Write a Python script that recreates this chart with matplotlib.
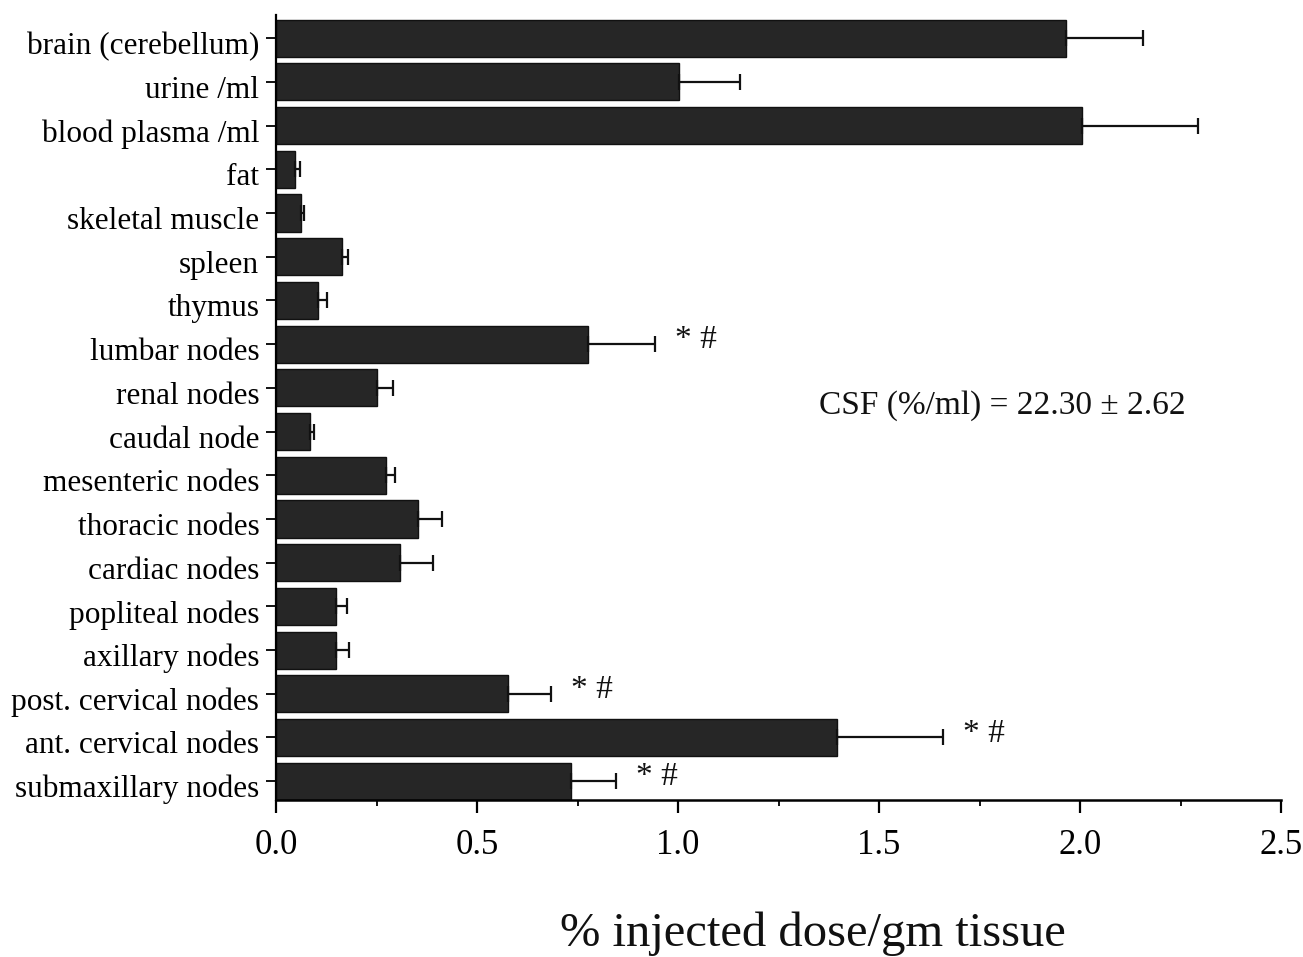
import matplotlib
matplotlib.use("Agg")
import matplotlib.pyplot as plt
import matplotlib.transforms as mtransforms
from matplotlib.ticker import MultipleLocator

categories = ["brain (cerebellum)", "urine /ml", "blood plasma /ml", "fat",
              "skeletal muscle", "spleen", "thymus", "lumbar nodes", "renal nodes",
              "caudal node", "mesenteric nodes", "thoracic nodes", "cardiac nodes",
              "popliteal nodes", "axillary nodes", "post. cervical nodes",
              "ant. cervical nodes", "submaxillary nodes"]
values = [1.964, 1.002, 2.006, 0.047, 0.061, 0.163, 0.105, 0.775, 0.251,
          0.084, 0.273, 0.352, 0.309, 0.150, 0.150, 0.576, 1.396, 0.735]
errors = [0.192, 0.152, 0.287, 0.012, 0.009, 0.017, 0.023, 0.167, 0.039,
          0.011, 0.023, 0.061, 0.081, 0.026, 0.032, 0.109, 0.264, 0.110]
marks = {"lumbar nodes": "* #", "post. cervical nodes": "* #",
         "ant. cervical nodes": "* #", "submaxillary nodes": "* #"}
x_ticks = [0.0, 0.5, 1.0, 1.5, 2.0, 2.5]
csf_text = "CSF (%/ml) = 22.30 ± 2.62"
xlabel = "% injected dose/gm tissue"

plt.rcParams['font.family'] = ['Liberation Serif', 'DejaVu Serif']

W, H = 1303, 957
fig = plt.figure(figsize=(W/100, H/100), dpi=100)
L, R, T, B = 276, 1281, 15, 800
ax = fig.add_axes([L/W, 1 - B/H, (R-L)/W, (B-T)/H])

n = len(categories)
ypos = list(range(n))
ax.barh(ypos, values, height=0.85, color='#262626', edgecolor='#111111',
        linewidth=1.0, zorder=2)
ax.errorbar(values, ypos, xerr=[[0]*n, errors], fmt='none', ecolor='#111111',
            elinewidth=1.6, capsize=6, capthick=1.6, zorder=3)

for i, c in enumerate(categories):
    if c in marks:
        ax.annotate(marks[c], xy=(values[i] + errors[i], i), xytext=(20, 4),
                    textcoords='offset pixels', ha='left', va='center',
                    fontsize=24, color='#111111')

ax.text(1.35, 8.4, csf_text, fontsize=24, color='#111111', ha='left', va='center')

ax.set_xlim(0, 2.5)
ax.set_ylim(17.43, -0.53)
ax.set_yticks(ypos)
ax.set_yticklabels(categories, fontsize=22.5)
ax.set_xticks(x_ticks)
ax.set_xticklabels([f"{t:.1f}" for t in x_ticks], fontsize=25)
ax.xaxis.set_minor_locator(MultipleLocator(0.25))
ax.tick_params(axis='x', which='major', length=9, width=1.6, pad=12, direction='out')
ax.tick_params(axis='x', which='minor', length=4, width=1.3, direction='out')
ax.tick_params(axis='y', length=7, width=1.3, pad=5, direction='out')
offset = mtransforms.ScaledTranslation(0, -0.05, fig.dpi_scale_trans)
for lab in ax.get_yticklabels():
    lab.set_transform(lab.get_transform() + offset)
ax.spines['top'].set_visible(False)
ax.spines['right'].set_visible(False)
ax.spines['left'].set_linewidth(1.6)
ax.spines['bottom'].set_linewidth(1.8)
fig.text(813/W, 1 - 946/H, xlabel, fontsize=35, ha='center', va='baseline',
         color='#111111')

fig.savefig("out.png", dpi=100, facecolor='white')
